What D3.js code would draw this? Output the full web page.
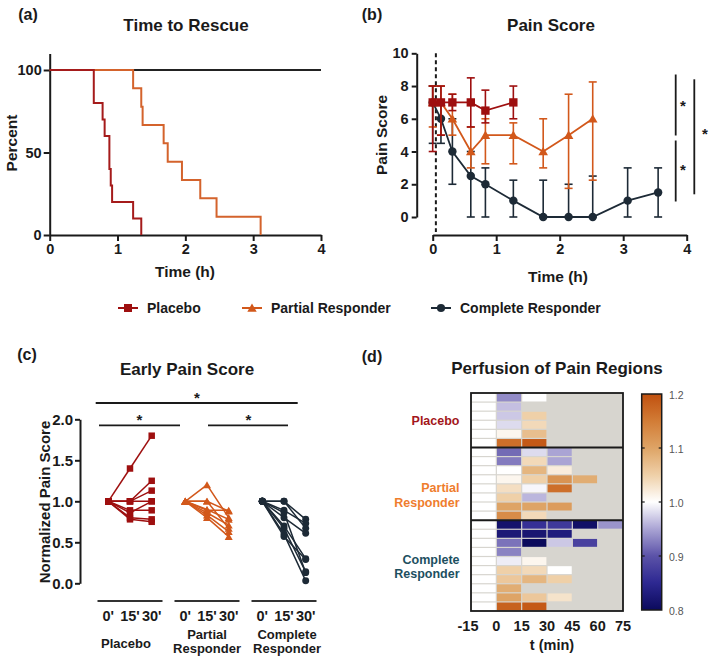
<!DOCTYPE html>
<html><head><meta charset="utf-8">
<script src="https://cdn.jsdelivr.net/npm/d3@7"></script>
<style>body{margin:0;background:#fff}svg{display:block}text{font-family:"Liberation Sans",Arial,sans-serif}</style>
</head><body><svg id="c" width="709" height="657"></svg>
<script>
// ---------- DATA ----------
// (a) Time to rescue (Kaplan-Meier)
const kmPlaceboT = [0, 0.65, 0.78, 0.81, 0.88, 0.90, 0.92, 1.23, 1.35];
const kmPlaceboP = [100, 80, 70, 60, 40, 30, 20, 10, 0];
const kmPartialT = [0, 1.23, 1.35, 1.37, 1.68, 1.74, 1.95, 2.22, 2.46, 3.11];
const kmPartialP = [100, 88.9, 77.8, 66.7, 55.6, 44.4, 33.3, 22.2, 11.1, 0];
const kmCompleteT = [0, 4];
const kmCompleteP = [100, 100];
const kmXTicks = [0, 1, 2, 3, 4];
const kmYTicks = [0, 50, 100];

// (b) Pain score (median with range)
const painPlaceboT  = [0, 0.13, 0.31, 0.6, 0.83, 1.27];
const painPlacebo   = [7, 7, 7, 7, 6.5, 7];
const painPlaceboLo = [4, 5, 6.5, 5.5, 5.75, 6];
const painPlaceboHi = [8, 8, 7.5, 8.5, 7.75, 8];
const painPartialT  = [0, 0.13, 0.31, 0.6, 0.83, 1.27, 1.74, 2.14, 2.52];
const painPartial   = [7, 7, 6, 4, 5, 5, 4, 5, 6];
const painPartialLo = [5.5, 5, 5, 3, 3.25, 3.25, 3, 1.75, 2.25];
const painPartialHi = [8, 8, 7.5, 5.5, 6, 5.75, 6, 7.5, 8.25];
const painCompleteT  = [0, 0.13, 0.31, 0.6, 0.83, 1.27, 1.74, 2.14, 2.52, 3.07, 3.55];
const painComplete   = [7, 6, 4, 2.5, 2, 1, 0, 0, 0, 1, 1.5];
const painCompleteLo = [4.5, 4.5, 2, 0, 0, 0, 0, 0, 0, 0, 0];
const painCompleteHi = [8, 7, 6, 4, 3, 2.25, 2.25, 2, 2.5, 3, 3];
const painXTicks = [0, 1, 2, 3, 4];
const painYTicks = [0, 2, 4, 6, 8, 10];
const rescueTime = 0.05;

// (c) Early pain score, per patient [0', 15', 30']
const earlyTimes = ["0'", "15'", "30'"];
const earlyGroups = ["Placebo", "Partial Responder", "Complete Responder"];
const earlyPlacebo = [
  [1, 1.40, 1.80], [1, 1.00, 1.25], [1, 1.00, 1.13], [1, 1.00, 1.00],
  [1, 0.89, 0.89], [1, 0.86, 1.00], [1, 0.80, 0.78], [1, 0.78, 0.75]
];
const earlyPartial = [
  [1, 1.20, 0.80], [1, 1.00, 0.88], [1, 1.00, 0.67], [1, 0.89, 0.89],
  [1, 0.86, 0.71], [1, 0.83, 0.63], [1, 0.80, 0.57], [1, 0.90, 0.78]
];
const earlyComplete = [
  [1, 1.00, 0.78], [1, 1.00, 0.67], [1, 0.89, 0.73], [1, 0.80, 0.61],
  [1, 0.70, 0.30], [1, 0.67, 0.14], [1, 0.60, 0.03], [1, 0.86, 0.13], [1, 0.57, 0.29]
];
const earlyYTicks = [0, 0.5, 1.0, 1.5, 2.0];

// (d) Perfusion heatmap, columns start at perfStarts (15-min bins), null = no data
const perfStarts = [-15, 0, 15, 30, 45, 60];
const perfTicks = [-15, 0, 15, 30, 45, 60, 75];
const perfPlacebo = [
  [1.00, 0.935, 1.00, null, null, null],
  [1.00, 0.965, null, null, null, null],
  [1.00, 0.97, 1.05, null, null, null],
  [1.00, 0.98, 1.04, null, null, null],
  [1.00, 1.01, 1.07, null, null, null],
  [1.00, 1.165, 1.19, null, null, null]
];
const perfPartial = [
  [1.00, 0.915, 0.98, 0.95, null, null],
  [1.00, 0.925, 1.04, 0.95, null, null],
  [1.00, 1.00, 1.08, 1.02, null, null],
  [1.00, 1.01, 1.05, 1.12, 1.09, null],
  [1.00, 1.035, 0.995, 1.165, null, null],
  [1.00, 1.05, 0.96, null, null, null],
  [1.00, 1.10, 1.10, 1.11, null, null],
  [1.00, 1.13, 1.04, null, null, null]
];
const perfComplete = [
  [1.00, 0.815, 0.86, 0.87, 0.81, 0.94],
  [1.00, 0.825, 0.82, 0.83, null, null],
  [1.00, 0.92, 0.80, 0.97, 0.88, null],
  [1.00, 0.93, null, null, null, null],
  [1.00, 0.99, 1.01, null, null, null],
  [1.00, 1.05, 1.04, 1.00, null, null],
  [1.00, 1.06, 1.08, 1.05, null, null],
  [1.00, 1.09, null, null, null, null],
  [1.00, 1.10, 1.06, 1.03, null, null],
  [1.00, 1.18, 1.19, null, null, null]
];
const cbTicks = [0.8, 0.9, 1.0, 1.1, 1.2];
const cbStops = [0.8, 0.85, 0.9, 0.95, 1.0, 1.05, 1.1, 1.15, 1.2];
const cbColors = ["#0b0a5c", "#2d2891", "#5b52a8", "#aaa4d4", "#ffffff", "#efd0a8", "#dea466", "#d27c36", "#c0500f"];

// ---------- STYLE ----------
const C_PL = "#9e0f0f", C_PA = "#d2581b", C_CO = "#1d2a36", AX = "#1a1a1a";
const FONT = '"Liberation Sans", Arial, sans-serif';
const svg = d3.select("#c");

function styleAxis(g, fs) {
  g.attr("font-family", FONT);
  g.select(".domain").attr("stroke", AX).attr("stroke-width", 2);
  g.selectAll(".tick line").attr("stroke", AX).attr("stroke-width", 2);
  g.selectAll(".tick text").attr("font-size", fs || 14.5).attr("font-weight", "bold").attr("fill", AX);
}
function txt(x, y, s, o) {
  o = o || {};
  const t = svg.append("text").attr("x", x).attr("y", y).text(s)
    .attr("font-size", o.fs || 14).attr("font-weight", o.fw || "bold")
    .attr("fill", o.fill || AX).attr("text-anchor", o.anchor || "middle")
    .attr("dominant-baseline", "central");
  if (o.rot) t.attr("transform", `rotate(${o.rot},${x},${y})`);
  return t;
}
const sym = {sq: d3.symbolSquare, tri: d3.symbolTriangle, cir: d3.symbolCircle};
const fmtInt = d3.format("d");

// ---------- (a) ----------
txt(28, 14, "(a)", {fs: 16});
txt(186, 25, "Time to Rescue", {fs: 17});
const xA = d3.scaleLinear([0, 4], [49.7, 321]);
const yA = d3.scaleLinear([0, 110], [235, 53.5]);
styleAxis(svg.append("g").attr("transform", "translate(0,235)")
  .call(d3.axisBottom(xA).tickValues(kmXTicks).tickFormat(fmtInt).tickSize(6).tickSizeOuter(0).tickPadding(3)));
styleAxis(svg.append("g").attr("transform", "translate(49.7,0)")
  .call(d3.axisLeft(yA).tickValues(kmYTicks).tickFormat(fmtInt).tickSize(6).tickSizeOuter(0).tickPadding(2)));
txt(185, 271, "Time (h)", {fs: 15.5});
txt(11, 143, "Percent", {fs: 15.5, rot: -90});
const lineA = d3.line().x(d => xA(d[0])).y(d => yA(d[1])).curve(d3.curveStepAfter);
[[kmCompleteT, kmCompleteP, "#222"], [kmPartialT, kmPartialP, "#d4632c"], [kmPlaceboT, kmPlaceboP, "#a51b1b"]]
  .forEach(([t, p, c]) => {
    svg.append("path").attr("d", lineA(t.map((v, i) => [v, p[i]])))
      .attr("fill", "none").attr("stroke", c).attr("stroke-width", 2);
  });

// ---------- (b) ----------
txt(372, 14, "(b)", {fs: 16});
txt(551, 25, "Pain Score", {fs: 17});
const xB = d3.scaleLinear([0, 4], [432.7, 686.7]);
const yB = d3.scaleLinear([0, 10], [217, 53.3]);
styleAxis(svg.append("g").attr("transform", "translate(0,235)")
  .call(d3.axisBottom(xB).tickValues(painXTicks).tickFormat(fmtInt).tickSize(6).tickSizeOuter(0).tickPadding(3)));
styleAxis(svg.append("g").attr("transform", "translate(416.7,0)")
  .call(d3.axisLeft(yB).tickValues(painYTicks).tickFormat(fmtInt).tickSize(5).tickSizeOuter(0).tickPadding(3)));
txt(558, 276, "Time (h)", {fs: 15.5});
txt(381, 135, "Pain Score", {fs: 15.5, rot: -90});
svg.append("line").attr("x1", xB(rescueTime)).attr("x2", xB(rescueTime))
  .attr("y1", yB(10)).attr("y2", 232).attr("stroke", AX).attr("stroke-width", 2).attr("stroke-dasharray", "4,3");

function seriesB(T, V, LO, HI, color, shape, size) {
  const g = svg.append("g");
  T.forEach((t, i) => {
    const x = xB(t);
    g.append("line").attr("x1", x).attr("x2", x).attr("y1", yB(LO[i])).attr("y2", yB(HI[i]))
      .attr("stroke", color).attr("stroke-width", 1.6);
    [LO[i], HI[i]].forEach(v => g.append("line").attr("x1", x - 4).attr("x2", x + 4)
      .attr("y1", yB(v)).attr("y2", yB(v)).attr("stroke", color).attr("stroke-width", 1.6));
  });
  g.append("path").attr("d", d3.line().x((d, i) => xB(T[i])).y(d => yB(d))(V))
    .attr("fill", "none").attr("stroke", color).attr("stroke-width", 1.8);
  T.forEach((t, i) => g.append("path").attr("d", d3.symbol(sym[shape], size)())
    .attr("transform", `translate(${xB(t)},${yB(V[i]) + (shape === "tri" ? 1 : 0)})`).attr("fill", color));
}
seriesB(painCompleteT, painComplete, painCompleteLo, painCompleteHi, C_CO, "cir", 56);
seriesB(painPartialT, painPartial, painPartialLo, painPartialHi, C_PA, "tri", 40);
seriesB(painPlaceboT, painPlacebo, painPlaceboLo, painPlaceboHi, C_PL, "sq", 70);

// significance
[[675.7, 74.5, 135.5, 683, 103], [675.7, 140.5, 201.5, 683, 167], [694.3, 79.3, 194.3, 705, 131]]
  .forEach(([x, y1, y2, sx, sy]) => {
    svg.append("line").attr("x1", x).attr("x2", x).attr("y1", y1).attr("y2", y2).attr("stroke", AX).attr("stroke-width", 1.8);
    txt(sx, sy + 2, "*", {fs: 15});
  });

// ---------- Legend ----------
[[C_PL, "sq", 64, 128, "Placebo", 147], [C_PA, "tri", 38, 252, "Partial Responder", 271], [C_CO, "cir", 52, 441, "Complete Responder", 460]]
  .forEach(([c, s, sz, mx, label, tx]) => {
    svg.append("line").attr("x1", mx - 10).attr("x2", mx + 10).attr("y1", 308).attr("y2", 308).attr("stroke", c).attr("stroke-width", 2);
    svg.append("path").attr("d", d3.symbol(sym[s], sz)()).attr("transform", `translate(${mx},${308 + (s === "tri" ? 1 : 0)})`).attr("fill", c);
    txt(tx, 308, label, {fs: 14, anchor: "start"});
  });

// ---------- (c) ----------
txt(27, 354, "(c)", {fs: 16});
txt(187, 369, "Early Pain Score", {fs: 17});
const yC = d3.scaleLinear([0, 2], [583.3, 419.3]);
const gBand = d3.scaleBand(earlyGroups, [91.5, 322.5]);
const tPoint = d3.scalePoint(earlyTimes, [16.8, 60.2]);
styleAxis(svg.append("g").attr("transform", "translate(80,0)")
  .call(d3.axisLeft(yC).tickValues(earlyYTicks).tickFormat(d3.format(".1f")).tickSize(5).tickSizeOuter(0).tickPadding(2)), 15);
txt(44, 502, "Normalized Pain Score", {fs: 15, rot: -90});
const earlySets = [[earlyPlacebo, C_PL, "sq", 42, 0], [earlyPartial, C_PA, "tri", 28, 1], [earlyComplete, C_CO, "cir", 38, 2]];
earlySets.forEach(([rows, c, s, sz, gi]) => {
  const grp = earlyGroups[gi];
  const g = svg.append("g");
  const xp = t => gBand(grp) + tPoint(t);
  rows.forEach(r => {
    g.append("path").attr("d", d3.line().x((d, i) => xp(earlyTimes[i])).y(d => yC(d))(r))
      .attr("fill", "none").attr("stroke", c).attr("stroke-width", 1.5);
  });
  rows.forEach(r => r.forEach((v, i) => g.append("path").attr("d", d3.symbol(sym[s], sz)())
    .attr("transform", `translate(${xp(earlyTimes[i])},${yC(v) + (s === "tri" ? 1 : 0)})`).attr("fill", c)));
  svg.append("line").attr("x1", gBand(grp) + 6).attr("x2", gBand(grp) + gBand.bandwidth() - 6)
    .attr("y1", 601).attr("y2", 601).attr("stroke", "#333").attr("stroke-width", 1.8);
  earlyTimes.forEach(t => txt(xp(t), 616, t, {fs: 14.5}));
});
const gc = g => gBand(g) + gBand.bandwidth() / 2;
txt(gc(earlyGroups[0]) - 4, 643, "Placebo", {fs: 13});
txt(gc(earlyGroups[1]), 634, "Partial", {fs: 13});
txt(gc(earlyGroups[1]), 648.5, "Responder", {fs: 13});
txt(gc(earlyGroups[2]) + 3, 634, "Complete", {fs: 13});
txt(gc(earlyGroups[2]) + 3, 648.5, "Responder", {fs: 13});
[[95.7, 297.7, 403, 197], [99, 180, 425.3, 139.5], [208, 288, 425.3, 248.5]].forEach(([x1, x2, y, sx]) => {
  svg.append("line").attr("x1", x1).attr("x2", x2).attr("y1", y).attr("y2", y).attr("stroke", AX).attr("stroke-width", 1.8);
  txt(sx, y - 6, "*", {fs: 15});
});

// ---------- (d) ----------
txt(372, 356, "(d)", {fs: 16});
txt(557, 368, "Perfusion of Pain Regions", {fs: 17});
const perfRows = perfPlacebo.concat(perfPartial, perfComplete);
const xD = d3.scaleLinear([-15, 75], [471, 623]);
const yD = d3.scaleBand(d3.range(perfRows.length), [393, 611]);
const colorD = d3.scaleLinear(cbStops, cbColors).clamp(true);
svg.append("rect").attr("x", xD(-15)).attr("y", 393).attr("width", xD(75) - xD(-15)).attr("height", 218).attr("fill", "#d7d5cf");
perfRows.forEach((row, ri) => row.forEach((v, ci) => {
  if (v === null) return;
  const x0 = xD(perfStarts[ci]), x1 = xD(perfStarts[ci] + 15);
  svg.append("rect").attr("x", x0 + 0.6).attr("y", yD(ri) + 0.6)
    .attr("width", x1 - x0 - 1.2).attr("height", yD.bandwidth() - 1.2).attr("fill", colorD(v));
}));
svg.append("rect").attr("x", xD(-15)).attr("y", 393).attr("width", xD(75) - xD(-15)).attr("height", 218)
  .attr("fill", "none").attr("stroke", AX).attr("stroke-width", 1.8);
[perfPlacebo.length, perfPlacebo.length + perfPartial.length].forEach(k => {
  svg.append("line").attr("x1", xD(-15)).attr("x2", xD(75)).attr("y1", yD(k)).attr("y2", yD(k)).attr("stroke", AX).attr("stroke-width", 2);
});
perfTicks.forEach(t => txt(xD(t) - (t < 0 ? 3 : 0), 626, String(t), {fs: 14.5}));
txt(552, 645, "t (min)", {fs: 14.5});
txt(459.5, 421, "Placebo", {fs: 12.5, anchor: "end", fill: "#a3161b"});
txt(459.5, 488.3, "Partial", {fs: 12.5, anchor: "end", fill: "#ef7d2d"});
txt(459.5, 502.7, "Responder", {fs: 12.5, anchor: "end", fill: "#ef7d2d"});
txt(459.5, 560, "Complete", {fs: 12.5, anchor: "end", fill: "#1d4f5f"});
txt(459.5, 574.3, "Responder", {fs: 12.5, anchor: "end", fill: "#1d4f5f"});

// colorbar
const yCb = d3.scaleLinear([0.8, 1.2], [610, 394]);
const grad = svg.append("defs").append("linearGradient").attr("id", "cbg")
  .attr("x1", 0).attr("x2", 0).attr("y1", 1).attr("y2", 0);
d3.range(0, 1.0001, 0.025).forEach(f => grad.append("stop").attr("offset", f).attr("stop-color", colorD(0.8 + 0.4 * f)));
svg.append("rect").attr("x", 641.7).attr("y", 394).attr("width", 20).attr("height", 216)
  .attr("fill", "url(#cbg)").attr("stroke", AX).attr("stroke-width", 1.5);
cbTicks.forEach(v => {
  if (v > 0.8 && v < 1.2) {
    svg.append("line").attr("x1", 641.7).attr("x2", 644.7).attr("y1", yCb(v)).attr("y2", yCb(v)).attr("stroke", AX).attr("stroke-width", 1.2);
    svg.append("line").attr("x1", 658.7).attr("x2", 661.7).attr("y1", yCb(v)).attr("y2", yCb(v)).attr("stroke", AX).attr("stroke-width", 1.2);
  }
  txt(669, yCb(v) + 1, d3.format(".1f")(v), {fs: 10.5, fw: "normal", anchor: "start", fill: "#555"});
});
</script></body></html>
